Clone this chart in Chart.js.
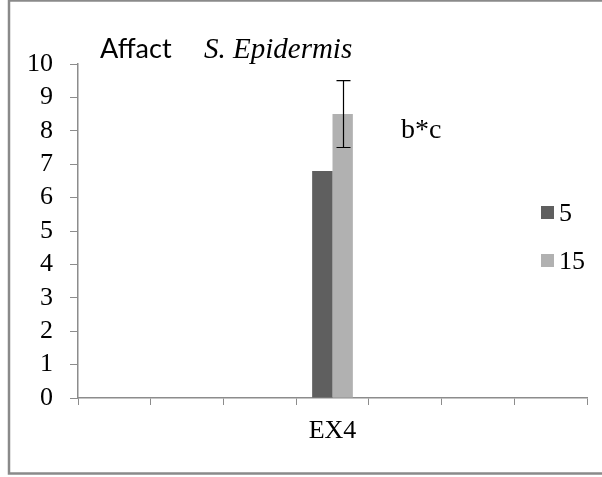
<!DOCTYPE html>
<html>
<head>
<meta charset="utf-8">
<script src="https://cdn.jsdelivr.net/npm/chart.js@4.4.1/dist/chart.umd.min.js"></script>
<style>
  html, body { margin: 0; padding: 0; background: #ffffff; }
  #wrap { width: 602px; height: 477px; position: relative; }
</style>
</head>
<body>
<div id="wrap"><canvas id="c" width="602" height="477"></canvas></div>
<script>
// Categories along the x axis (only the fourth one carries a label)
const categories = ['', '', '', 'EX4', '', '', ''];
// Series names
const seriesNames = ['5', '15'];
// Values per series
const values5  = [null, null, null, 6.8, null, null, null];
const values15 = [null, null, null, 8.5, null, null, null];
// Error range for the "15" series
const err15 = [null, null, null, 1.0, null, null, null];
// Y axis range
const yTicks = [0, 1, 2, 3, 4, 5, 6, 7, 8, 9, 10];
const annotationText = 'b*c';

const colors = ['#5f5f5f', '#b1b1b1'];
const axisColor = '#8c8c8c';
const serif = '"Liberation Serif", "Times New Roman", serif';

// Frame around the whole chart
const framePlugin = {
  id: 'frame',
  beforeDraw(chart) {
    const ctx = chart.ctx;
    ctx.save();
    ctx.fillStyle = '#ffffff';
    ctx.fillRect(0, 0, chart.width, chart.height);
    ctx.strokeStyle = '#8a8a8a';
    ctx.lineWidth = 2.5;
    ctx.strokeRect(9, 0.5, 620, 473);
    ctx.restore();
  }
};

// Error bars, title, annotation and legend
const extrasPlugin = {
  id: 'extras',
  afterDatasetsDraw(chart) {
    const ctx = chart.ctx;
    const y = chart.scales.y;
    const meta = chart.getDatasetMeta(1);
    ctx.save();
    ctx.strokeStyle = '#000000';
    ctx.lineWidth = 1.2;
    values15.forEach((v, i) => {
      if (v == null || err15[i] == null) return;
      const bar = meta.data[i];
      const cx = Math.round(bar.x) + 0.5;
      const yTop = y.getPixelForValue(v + err15[i]);
      const yBot = y.getPixelForValue(v - err15[i]);
      ctx.beginPath();
      ctx.moveTo(cx, yTop); ctx.lineTo(cx, yBot);
      ctx.moveTo(cx - 7, yTop); ctx.lineTo(cx + 7, yTop);
      ctx.moveTo(cx - 7, yBot); ctx.lineTo(cx + 7, yBot);
      ctx.stroke();
    });

    // Title
    ctx.fillStyle = '#000000';
    ctx.textBaseline = 'alphabetic';
    ctx.textAlign = 'left';
    ctx.font = '27px Lato, "Open Sans", sans-serif';
    ctx.fillText('Affact', 100, 58);
    ctx.font = 'italic 29px ' + serif;
    ctx.fillText('S. Epidermis', 204, 58);

    // Significance annotation
    ctx.font = '28px ' + serif;
    ctx.fillText(annotationText, 401, 138);

    // Legend
    const lx = 541, ly = [213, 261];
    seriesNames.forEach((name, k) => {
      ctx.fillStyle = colors[k];
      ctx.fillRect(lx, ly[k] - 7, 13, 13);
      ctx.fillStyle = '#000000';
      ctx.font = '26px ' + serif;
      ctx.textBaseline = 'middle';
      ctx.fillText(name, lx + 18, ly[k] + 1);
    });
    ctx.restore();
  }
};

new Chart(document.getElementById('c'), {
  type: 'bar',
  data: {
    labels: categories,
    datasets: [
      { label: seriesNames[0], data: values5, backgroundColor: colors[0] },
      { label: seriesNames[1], data: values15, backgroundColor: colors[1] }
    ]
  },
  options: {
    responsive: false,
    animation: false,
    events: [],
    layout: { padding: { left: 0, right: 15, top: 64, bottom: 0 } },
    plugins: { legend: { display: false }, tooltip: { enabled: false } },
    datasets: { bar: { categoryPercentage: 0.56, barPercentage: 1.0, skipNull: false } },
    scales: {
      x: {
        offset: true,
        grid: { offset: true, drawOnChartArea: false, drawTicks: true, tickLength: 7, color: axisColor, lineWidth: 1 },
        border: { color: axisColor, width: 1.5 },
        ticks: { color: '#000000', font: { family: serif, size: 26 }, padding: 11, autoSkip: false, maxRotation: 0 },
        afterFit(scale) { scale.height = 79; }
      },
      y: {
        min: yTicks[0],
        max: yTicks[yTicks.length - 1],
        afterBuildTicks(scale) { scale.ticks = yTicks.map(v => ({ value: v })); },
        grid: { drawOnChartArea: false, drawTicks: true, tickLength: 8, color: axisColor, lineWidth: 1 },
        border: { color: axisColor, width: 1.5 },
        ticks: { color: '#000000', font: { family: serif, size: 26 }, padding: 17, autoSkip: false },
        afterFit(scale) { scale.width = 78; }
      }
    }
  },
  plugins: [framePlugin, extrasPlugin]
});
</script>
</body>
</html>
